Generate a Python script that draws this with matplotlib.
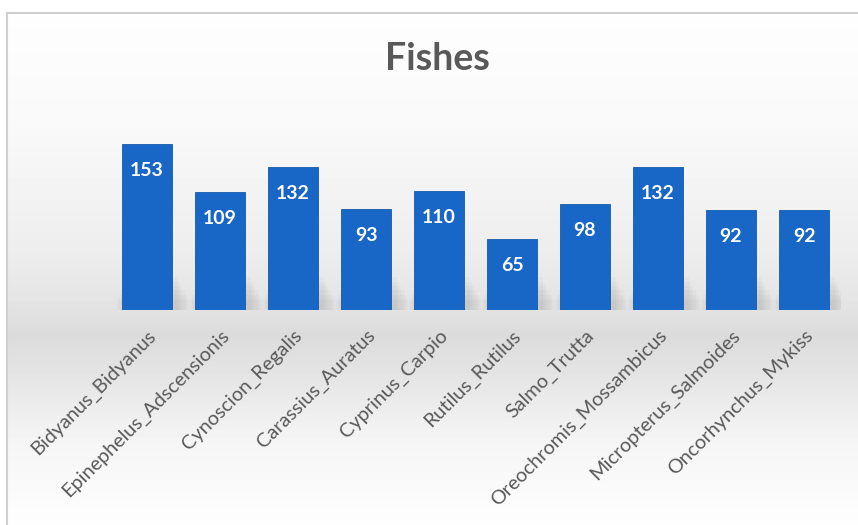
import matplotlib
matplotlib.use("Agg")
import matplotlib.pyplot as plt
import numpy as np

categories = ["Bidyanus_Bidyanus", "Epinephelus_Adscensionis", "Cynoscion_Regalis",
              "Carassius_Auratus", "Cyprinus_Carpio", "Rutilus_Rutilus", "Salmo_Trutta",
              "Oreochromis_Mossambicus", "Micropterus_Salmoides", "Oncorhynchus_Mykiss"]
values = [153, 109, 132, 93, 110, 65, 98, 132, 92, 92]
title = "Fishes"

W, H = 858, 525
fig = plt.figure(figsize=(W / 100, H / 100), dpi=100)
fig.patch.set_facecolor("white")

# background gradient panel (chart area)
bg = fig.add_axes([7 / W, 0, 1 - 7 / W, (H - 13) / H])
bg.set_axis_off()
ys = np.array([0, 117, 237, 287, 322, 367, 427, 512])  # px from top of panel
gs = np.array([0.995, 0.975, 0.93, 0.895, 0.86, 0.9, 0.96, 0.995])
yy = np.arange(512)
col = np.interp(yy, ys, gs)
img = np.repeat(col[:, None], 10, axis=1)
bg.imshow(img, cmap="gray", vmin=0, vmax=1, aspect="auto", extent=[0, 1, 0, 1], origin="upper")
bg.set_xlim(0, 1); bg.set_ylim(0, 1)
# frame lines
fig.add_artist(plt.Line2D([7 / W, 1], [1 - 13 / H, 1 - 13 / H], color="#d0d0d0", lw=1.5, transform=fig.transFigure))
fig.add_artist(plt.Line2D([7 / W, 7 / W], [0, 1 - 13 / H], color="#d0d0d0", lw=1.5, transform=fig.transFigure))

# main axes
left = 110.5 / W
width = 730 / W
bottom = (H - 310) / H
ymax = 170
height = ymax * 1.085 / H
ax = fig.add_axes([left, bottom, width, height])
ax.set_facecolor("none")
x = np.arange(len(categories))

# soft shadows behind bars near the baseline
for xi in x:
    for k in range(6):
        ax.bar(xi + 0.08, 30 - k * 4, width=0.69 + 0.06 * k, bottom=0,
               color="#888888", alpha=0.05, linewidth=0, zorder=2)

bars = ax.bar(x, values, width=0.69, color="#1866c6", edgecolor="#145aab", linewidth=0.6, zorder=3)
ax.set_xlim(-0.5, len(categories) - 0.5)
ax.set_ylim(0, ymax)
for s in ax.spines.values():
    s.set_visible(False)
ax.set_yticks([])
ax.set_xticks(x)
ax.set_xticklabels(categories, rotation=45, ha="right", va="top", rotation_mode="anchor",
                   fontsize=14.3, color="#595959", family=["Lato", "DejaVu Sans"])
ax.tick_params(axis="x", length=0, pad=12)

for xi, v in zip(x, values):
    ax.annotate(str(v), (xi, v), xytext=(0, -19), textcoords="offset points",
                ha="center", va="center", color="white", fontsize=14, fontweight="bold",
                family=["Lato", "DejaVu Sans"], zorder=4)

fig.text(437 / W, 1 - 59 / H, title, ha="center", va="center", fontsize=27,
         fontweight="bold", color="#595959", family=["Lato", "DejaVu Sans"])

fig.savefig("out.png", dpi=100)
